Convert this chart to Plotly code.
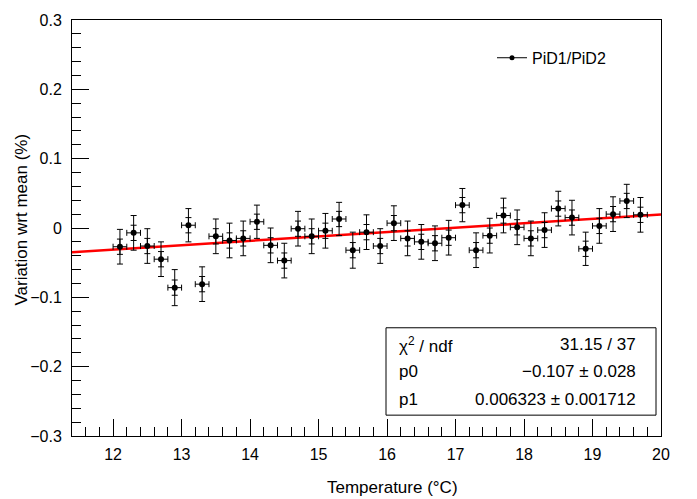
import plotly.graph_objects as go

# ---- data ----
temperature = [12.1, 12.3, 12.5, 12.7, 12.9, 13.1, 13.3, 13.5, 13.7, 13.9,
               14.1, 14.3, 14.5, 14.7, 14.9, 15.1, 15.3, 15.5, 15.7, 15.9,
               16.1, 16.3, 16.5, 16.7, 16.9, 17.1, 17.3, 17.5, 17.7, 17.9,
               18.1, 18.3, 18.5, 18.7, 18.9, 19.1, 19.3, 19.5, 19.7]
variation = [-0.027, -0.007, -0.026, -0.045, -0.086, 0.004, -0.081, -0.012, -0.018, -0.015,
             0.009, -0.025, -0.047, -0.001, -0.012, -0.004, 0.013, -0.032, -0.006, -0.026,
             0.007, -0.015, -0.020, -0.022, -0.014, 0.033, -0.032, -0.011, 0.018, 0.001,
             -0.015, -0.003, 0.028, 0.015, -0.030, 0.003, 0.020, 0.039, 0.019]
err_x = [0.1] * 39
err_y = [0.025, 0.025, 0.025, 0.025, 0.026, 0.024, 0.025, 0.025, 0.025, 0.025,
         0.024, 0.025, 0.025, 0.025, 0.025, 0.025, 0.024, 0.026, 0.025, 0.025,
         0.025, 0.025, 0.025, 0.025, 0.025, 0.024, 0.025, 0.025, 0.025, 0.025,
         0.025, 0.025, 0.025, 0.025, 0.024, 0.025, 0.025, 0.024, 0.025]
err_y_inner = [0.011] * 39
fit_x = [11.4, 20.0]
p0, p1 = -0.107, 0.006323
fit_y = [p0 + p1 * t for t in fit_x]
y_ticks = [-0.3, -0.2, -0.1, 0, 0.1, 0.2, 0.3]
y_tick_text = ["\u22120.3", "\u22120.2", "\u22120.1", "0", "0.1", "0.2", "0.3"]
x_ticks = [12, 13, 14, 15, 16, 17, 18, 19, 20]
stats_labels = ["\u03c7<sup>2</sup> / ndf", "p0", "p1"]
stats_values = ["31.15 / 37", "\u22120.107 \u00b1 0.028", "0.006323 \u00b1 0.001712"]

FONT = "Liberation Sans, Arial, Helvetica, sans-serif"
W, H = 697, 499
L, R, T, B = 72, 661, 17, 436


def px2paper(x, y):
    return (x - L) / (R - L), (B - y) / (B - T)


fig = go.Figure()

fig.add_trace(go.Scatter(
    x=fit_x, y=fit_y, mode="lines", line=dict(color="#ff0000", width=2.5),
    showlegend=False, hoverinfo="skip"))

fig.add_trace(go.Scatter(
    x=temperature, y=variation, mode="markers",
    marker=dict(size=1, color="rgba(0,0,0,0)"),
    error_y=dict(type="data", array=err_y_inner, width=3, thickness=1, color="black"),
    showlegend=False, hoverinfo="skip"))

fig.add_trace(go.Scatter(
    x=temperature, y=variation, mode="markers",
    marker=dict(size=6, color="black", symbol="circle"),
    error_y=dict(type="data", array=err_y, width=3, thickness=1, color="black"),
    error_x=dict(type="data", array=err_x, width=3, thickness=1, color="black"),
    showlegend=False, name="PiD1/PiD2"))

fig.add_trace(go.Scatter(
    x=[None], y=[None], mode="lines+markers", name="PiD1/PiD2",
    line=dict(color="black", width=1), marker=dict(size=5, color="black")))

axis_common = dict(showline=True, linecolor="black", linewidth=1, mirror=True,
                   ticks="inside", ticklen=17, tickcolor="black", tickwidth=1,
                   showgrid=False, zeroline=False,
                   tickfont=dict(family=FONT, size=16, color="black"))

fig.update_xaxes(range=[11.4, 20], tickvals=x_ticks, tick0=0,
                 minor=dict(ticks="inside", ticklen=9, dtick=0.2, tick0=0, tickcolor="black"),
                 ticklabelstandoff=4, **axis_common)
fig.update_yaxes(range=[-0.3, 0.3], tickvals=y_ticks, ticktext=y_tick_text,
                 minor=dict(ticks="inside", ticklen=9, dtick=0.02, tick0=0, tickcolor="black"),
                 ticklabelstandoff=6, **axis_common)

annotations = []
# axis titles
ax, ay = px2paper(392, 488)
annotations.append(dict(text="Temperature (\u00b0C)", x=ax, y=ay, xref="paper", yref="paper",
                        showarrow=False, xanchor="center", yanchor="middle",
                        font=dict(family=FONT, size=17, color="black")))
ax, ay = px2paper(22, 218)
annotations.append(dict(text="Variation wrt mean (%)", x=ax, y=ay, xref="paper", yref="paper",
                        showarrow=False, xanchor="center", yanchor="middle", textangle=-90,
                        font=dict(family=FONT, size=17, color="black")))

# stats box
row_y = [344, 371.5, 399]
for lab, val, ry in zip(stats_labels, stats_values, row_y):
    lx, ly = px2paper(397, ry)
    rx, _ = px2paper(638, ry)
    annotations.append(dict(text=lab, x=lx, y=ly, xref="paper", yref="paper", showarrow=False,
                            xanchor="left", yanchor="middle",
                            font=dict(family=FONT, size=17, color="black")))
    annotations.append(dict(text=val, x=rx, y=ly, xref="paper", yref="paper", showarrow=False,
                            xanchor="right", yanchor="middle",
                            font=dict(family=FONT, size=17, color="black")))

bx0, by0 = px2paper(386, 415)
bx1, by1 = px2paper(656, 327)

fig.update_layout(
    width=W, height=H,
    margin=dict(l=L, r=W - R, t=T, b=H - B, pad=0),
    paper_bgcolor="white", plot_bgcolor="white",
    font=dict(family=FONT, size=16, color="black"),
    annotations=annotations,
    shapes=[dict(type="rect", xref="paper", yref="paper", x0=bx0, y0=by0, x1=bx1, y1=by1,
                 line=dict(color="black", width=1), fillcolor="white", layer="above")],
    legend=dict(x=px2paper(492, 0)[0], y=px2paper(0, 38)[1], xanchor="left", yanchor="top",
                bgcolor="rgba(0,0,0,0)", borderwidth=0,
                font=dict(family=FONT, size=16, color="black")),
)

fig.write_html("out.html")
